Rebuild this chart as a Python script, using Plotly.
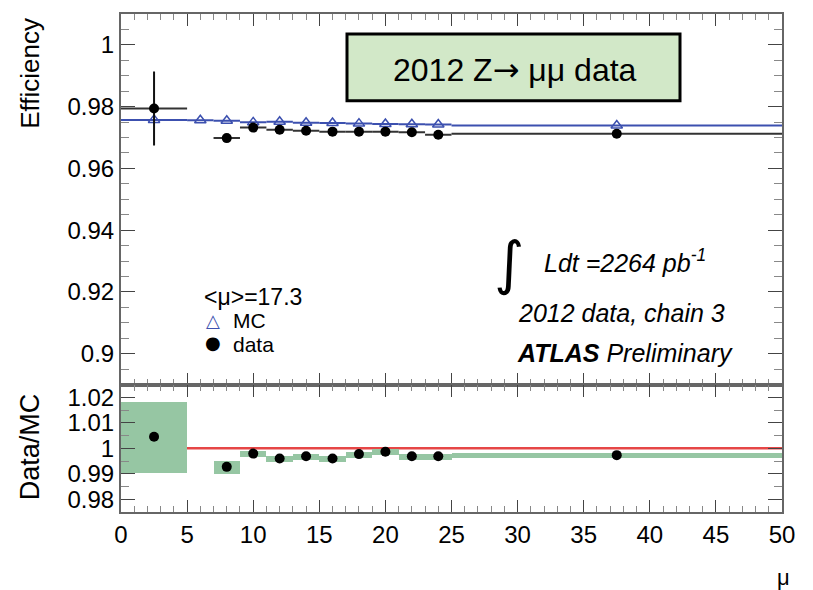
import plotly.graph_objects as go

# ---------------- data ----------------
mc_x = [2.5, 6, 8, 10, 12, 14, 16, 18, 20, 22, 24, 37.5]
mc_xerr = [2.5, 1, 1, 1, 1, 1, 1, 1, 1, 1, 1, 12.5]
mc_eff = [0.9757, 0.9756, 0.9754, 0.9749, 0.9751, 0.9748, 0.9747, 0.9745, 0.9744, 0.9743, 0.9742, 0.9739]

data_x = [2.5, 8, 10, 12, 14, 16, 18, 20, 22, 24, 37.5]
data_xerr = [2.5, 1, 1, 1, 1, 1, 1, 1, 1, 1, 12.5]
data_eff = [0.9794, 0.9698, 0.9732, 0.9725, 0.9722, 0.9719, 0.9719, 0.9719, 0.9717, 0.9709, 0.9712]
data_eff_err = [0.012, 0.0008, 0.0006, 0.0006, 0.0006, 0.0006, 0.0006, 0.0006, 0.0006, 0.0006, 0.0005]

ratio = [1.0045, 0.9927, 0.9979, 0.9960, 0.9969, 0.9960, 0.9977, 0.9986, 0.9969, 0.9969, 0.9973]
ratio_err = [0.0140, 0.0026, 0.0012, 0.0012, 0.0012, 0.0012, 0.0012, 0.0012, 0.0012, 0.0012, 0.0010]

eff_ticks = [0.9, 0.92, 0.94, 0.96, 0.98, 1.0]
eff_ticktext = ["0.9", "0.92", "0.94", "0.96", "0.98", "1"]
ratio_ticks = [0.98, 0.99, 1.0, 1.01, 1.02]
ratio_ticktext = ["0.98", "0.99", "1", "1.01", "1.02"]
x_ticks = [0, 5, 10, 15, 20, 25, 30, 35, 40, 45, 50]

# ---------------- geometry (page pixels) ----------------
OFF = 8                            # page body margin
W, H = 813 - OFF, 590 - OFF
L, R, T, B = 121, 782, 12, 512     # plot area in page pixels
SPLIT = 384                        # boundary between panels


def px(xp):
    return (xp - L) / (R - L)


def py(yp):
    return (B - yp) / (B - T)


FONT = "Liberation Sans, Arial, sans-serif"
GREEN = "rgb(150,198,163)"
BLUE = "rgb(60,80,175)"

fig = go.Figure()

# ratio error boxes
fig.add_trace(go.Bar(
    x=data_x, width=[2 * e for e in data_xerr],
    base=[r - e for r, e in zip(ratio, ratio_err)],
    y=[2 * e for e in ratio_err],
    marker=dict(color=GREEN, line=dict(width=0)),
    xaxis="x2", yaxis="y2", showlegend=False, hoverinfo="skip",
))
# ratio points
fig.add_trace(go.Scatter(
    x=data_x, y=ratio, mode="markers",
    marker=dict(color="black", size=10, symbol="circle"),
    xaxis="x2", yaxis="y2", showlegend=False,
))

# MC
fig.add_trace(go.Scatter(
    x=mc_x, y=mc_eff, mode="markers",
    marker=dict(symbol="triangle-up-open", color=BLUE, size=10, line=dict(width=1.5)),
    error_x=dict(type="data", array=mc_xerr, color=BLUE, thickness=2, width=0),
    xaxis="x", yaxis="y", showlegend=False,
))
# data
fig.add_trace(go.Scatter(
    x=data_x, y=data_eff, mode="markers",
    marker=dict(symbol="circle", color="black", size=10),
    error_x=dict(type="data", array=data_xerr, color="#333333", thickness=2, width=0),
    error_y=dict(type="data", array=data_eff_err, color="#111111", thickness=2, width=0),
    xaxis="x", yaxis="y", showlegend=False,
))

ydom_split = py(SPLIT)

axis_common = dict(
    showline=True, linecolor="#666666", linewidth=2, mirror="ticks",
    ticks="inside", tickcolor="#444444", showgrid=False, zeroline=False,
    tickfont=dict(family=FONT, size=24, color="black"),
)

fig.update_layout(
    width=W, height=H,
    margin=dict(l=L - OFF, r=W - (R - OFF), t=T - OFF, b=H - (B - OFF), pad=0),
    paper_bgcolor="white", plot_bgcolor="white",
    bargap=0, barmode="overlay",
    xaxis=dict(domain=[0, 1], range=[0, 50], anchor="y", tickvals=x_ticks,
               showticklabels=False, ticklen=12,
               minor=dict(ticks="inside", dtick=1, ticklen=6, tickcolor="#888888"),
               **axis_common),
    yaxis=dict(domain=[ydom_split, 1], range=[0.89, 1.01], anchor="x",
               tickvals=eff_ticks, ticktext=eff_ticktext, ticklen=14,
               minor=dict(ticks="inside", dtick=0.005, ticklen=8, tickcolor="#888888"),
               **axis_common),
    xaxis2=dict(domain=[0, 1], range=[0, 50], anchor="y2", matches="x",
                tickvals=x_ticks, ticktext=[str(v) for v in x_ticks], ticklen=12,
                minor=dict(ticks="inside", dtick=1, ticklen=6, tickcolor="#888888"),
                **axis_common),
    yaxis2=dict(domain=[0, ydom_split], range=[0.975, 1.025], anchor="x2",
                tickvals=ratio_ticks, ticktext=ratio_ticktext, ticklen=14,
                minor=dict(ticks="inside", dtick=0.005, ticklen=8, tickcolor="#888888"),
                **axis_common),
)

# red reference line at ratio = 1 (below the boxes)
fig.add_shape(type="line", xref="x2 domain", yref="y2", x0=0, x1=1, y0=1, y1=1,
              line=dict(color="rgb(230,70,70)", width=2.5), layer="below")

# green title box
fig.add_shape(type="rect", xref="paper", yref="paper",
              x0=px(347), x1=px(680), y0=py(99), y1=py(32),
              fillcolor="rgb(210,232,200)", line=dict(color="black", width=3))

ann = []


def text(t, x, y, size=24, xanchor="left", yanchor="middle", color="black", angle=0,
         italic=False, family=FONT):
    style = "italic" if italic else "normal"
    ann.append(dict(text=t, x=px(x), y=py(y), xref="paper", yref="paper",
                    xanchor=xanchor, yanchor=yanchor, showarrow=False,
                    textangle=angle,
                    font=dict(family=family, size=size, color=color, style=style)))


text("2012 Z<span style='font-family:DejaVu Sans'>\u2192</span> \u03bc\u03bc data",
     515, 68, size=32, xanchor="center")
text("Efficiency", 30, 71, size=26, xanchor="center", angle=-90)
text("Data/MC", 30, 446, size=27, xanchor="center", angle=-90)
text("\u03bc", 783, 578, size=22, xanchor="center")

text("\u222b", 509, 262, size=58, xanchor="center", family="DejaVu Sans")
text("Ldt =2264 pb<sup>-1</sup>", 542, 260, size=25, italic=True)
text("2012 data, chain 3", 516, 312, size=25, italic=True)
text("<b>ATLAS</b> Preliminary", 515, 352, size=25, italic=True)

text("<\u03bc>=17.3", 202, 296, size=23)
text("\u25b3", 213, 320, size=18, xanchor="center", color=BLUE, family="DejaVu Sans")
text("MC", 231, 320, size=21)
text("\u25cf", 213, 342, size=18, xanchor="center", family="DejaVu Sans")
text("data", 231, 344, size=21)

fig.update_layout(annotations=ann)

fig.write_html("out.html")
